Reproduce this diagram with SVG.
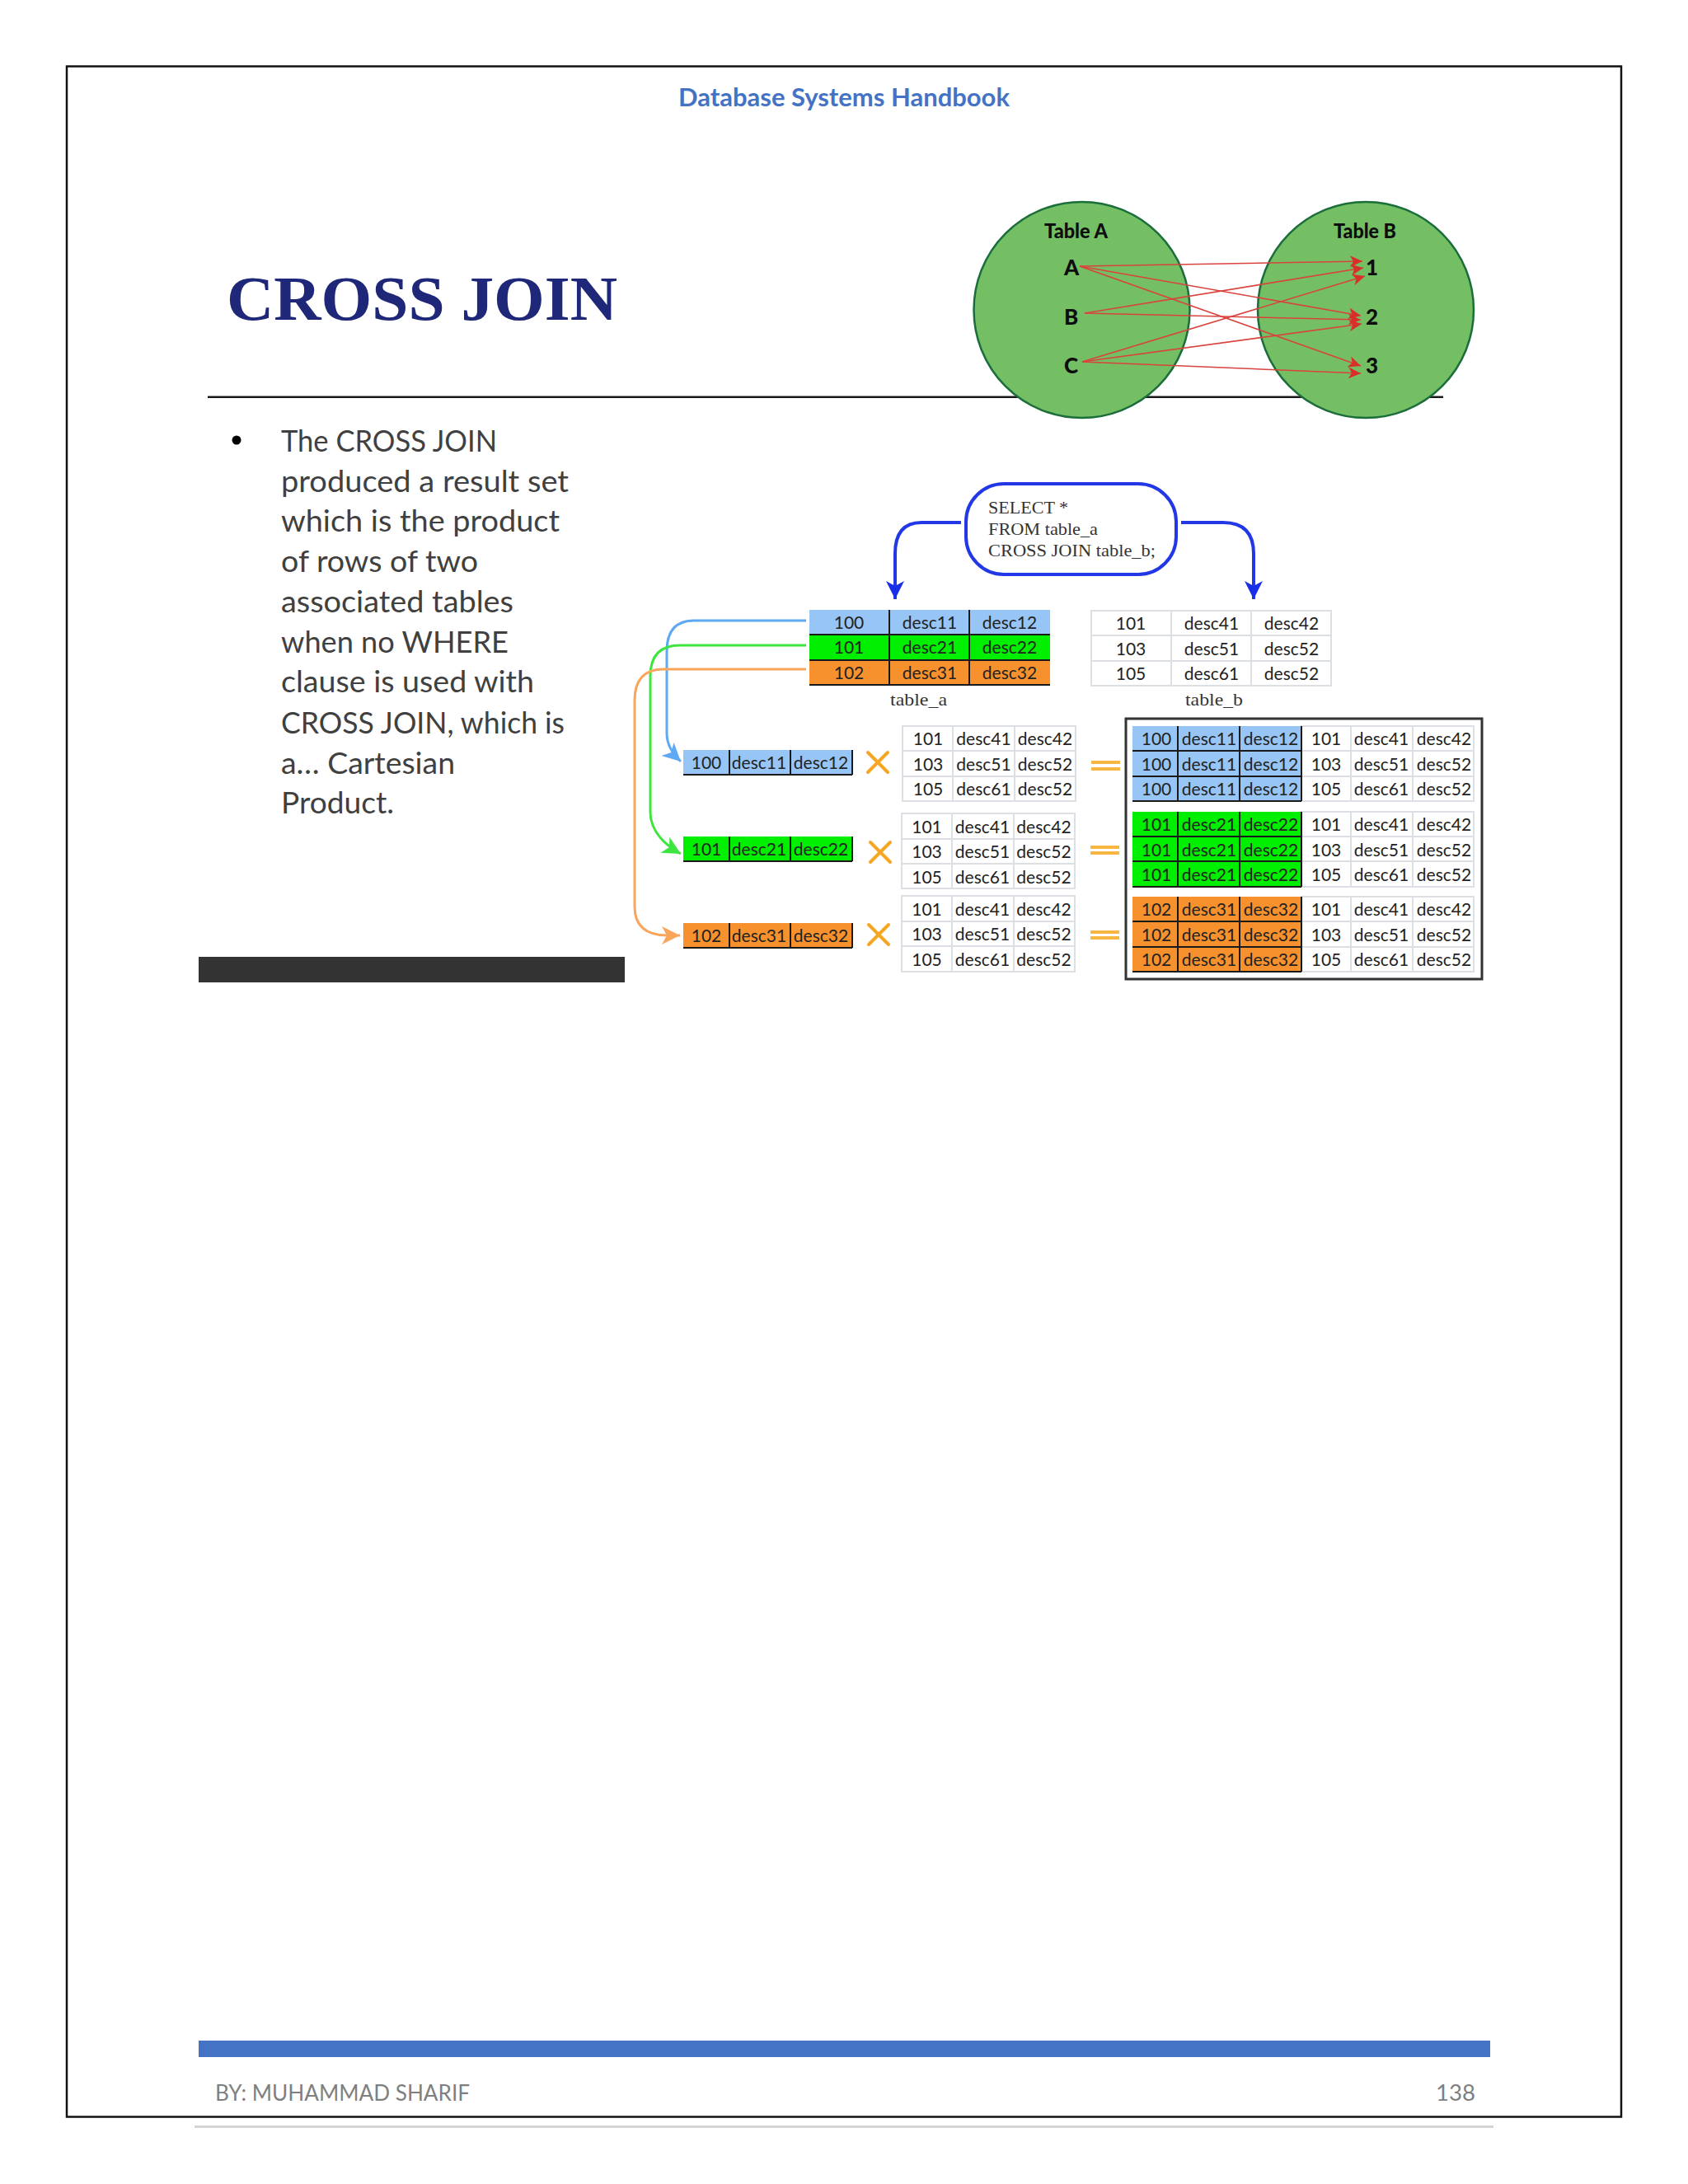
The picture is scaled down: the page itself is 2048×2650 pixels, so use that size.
<svg xmlns="http://www.w3.org/2000/svg" width="2048" height="2650" viewBox="0 0 2048 2650">
<style>
text{font-family:"Lato","Noto Sans",sans-serif}
.c{font-size:21px;fill:#222;text-anchor:middle}
.q{font-family:"Liberation Serif",serif;font-size:22px;fill:#333}
.p{font-size:37px;fill:#404040}
.f{font-size:27px;fill:#7f7f7f}
.v{font-weight:900;fill:#0d0d0d}
.k{stroke:#1a1a1a;stroke-width:2;fill:none}
.g{stroke:#dcdfe4;stroke-width:2;fill:#fff}
.gl{stroke:#dcdfe4;stroke-width:2;fill:none}
.ra{stroke:#d9433e;stroke-width:1.6;fill:none;marker-end:url(#ma)}
.b{fill:#97c5f5}.n{fill:#00ee00}.o{fill:#f7912e}
.x{stroke:#f5a623;stroke-width:4;fill:none;stroke-linecap:round}
.e{stroke:#f7b740;stroke-width:4;fill:none}
.bl{stroke:#2238e6;stroke-width:4;fill:none;marker-end:url(#mb)}
</style>
<defs>
<marker id="ma" markerUnits="userSpaceOnUse" markerWidth="18" markerHeight="16" refX="15" refY="7" orient="auto"><path d="M0 0 15 7 0 14 4 7Z" fill="#d92f2b"/></marker>
<marker id="mb" markerUnits="userSpaceOnUse" markerWidth="24" markerHeight="26" refX="22" refY="11" orient="auto"><path d="M0 0 22 11 0 22 6 11Z" fill="#1a2ee8"/></marker>
<marker id="mcb" markerUnits="userSpaceOnUse" markerWidth="24" markerHeight="26" refX="22" refY="11" orient="auto"><path d="M0 0 22 11 0 22 6 11Z" fill="#5fa8f2"/></marker>
<marker id="mcg" markerUnits="userSpaceOnUse" markerWidth="24" markerHeight="26" refX="22" refY="11" orient="auto"><path d="M0 0 22 11 0 22 6 11Z" fill="#3fe53f"/></marker>
<marker id="mco" markerUnits="userSpaceOnUse" markerWidth="24" markerHeight="26" refX="22" refY="11" orient="auto"><path d="M0 0 22 11 0 22 6 11Z" fill="#f9a55c"/></marker>
</defs>
<rect width="2048" height="2650" fill="#fff"/>

<g id="page">
<rect x="81" y="80.500" width="1886" height="2488" fill="none" stroke="#111" stroke-width="2.500"/>
<rect x="236" y="2579" width="1576" height="3" fill="#d4d4d4"/>
<text x="823" y="129" font-size="30" font-weight="700" fill="#4472c4" textLength="402" lengthAdjust="spacingAndGlyphs">Database Systems Handbook</text>
<text x="275" y="388" style="font-family:'Liberation Serif',serif" font-size="76" font-weight="700" fill="#1f2778" textLength="474" lengthAdjust="spacingAndGlyphs">CROSS JOIN</text>
<rect x="252" y="480.500" width="1499" height="2.500" fill="#1a1a1a"/>
<rect x="241" y="1161" width="517" height="31" fill="#333"/>
<rect x="241" y="2476" width="1567" height="20" fill="#4472c4"/>
<text class="f" x="261" y="2549" textLength="309" lengthAdjust="spacingAndGlyphs">BY: MUHAMMAD SHARIF</text>
<text class="f" x="1742" y="2549" textLength="48" lengthAdjust="spacingAndGlyphs">138</text>
</g>

<g id="bullet-text">
<circle cx="287" cy="534" r="5.500" fill="#000"/>
<text class="p" x="341" y="548" textLength="262" lengthAdjust="spacingAndGlyphs">The CROSS JOIN</text>
<text class="p" x="341" y="597" textLength="349" lengthAdjust="spacingAndGlyphs">produced a result set</text>
<text class="p" x="341" y="645" textLength="338" lengthAdjust="spacingAndGlyphs">which is the product</text>
<text class="p" x="341" y="694" textLength="239" lengthAdjust="spacingAndGlyphs">of rows of two</text>
<text class="p" x="341" y="743" textLength="282" lengthAdjust="spacingAndGlyphs">associated tables</text>
<text class="p" x="341" y="792" textLength="276" lengthAdjust="spacingAndGlyphs">when no WHERE</text>
<text class="p" x="341" y="840" textLength="307" lengthAdjust="spacingAndGlyphs">clause is used with</text>
<text class="p" x="341" y="890" textLength="344" lengthAdjust="spacingAndGlyphs">CROSS JOIN, which is</text>
<text class="p" x="341" y="939" textLength="211" lengthAdjust="spacingAndGlyphs">a… Cartesian</text>
<text class="p" x="341" y="987" textLength="137" lengthAdjust="spacingAndGlyphs">Product.</text>
</g>

<g id="table-a-circle">
<circle cx="1312.500" cy="376" r="131" fill="#74bf63" stroke="#1b6e3c" stroke-width="2.500"/>
<text class="v" x="1267" y="289" font-size="25" textLength="77" lengthAdjust="spacingAndGlyphs">Table A</text>
<text class="v" x="1291" y="334" font-size="26">A</text>
<text class="v" x="1291" y="394" font-size="26">B</text>
<text class="v" x="1291" y="453" font-size="26">C</text>
</g>
<g id="table-b-circle">
<circle cx="1657" cy="376" r="131" fill="#74bf63" stroke="#1b6e3c" stroke-width="2.500"/>
<text class="v" x="1618" y="289" font-size="25" textLength="76" lengthAdjust="spacingAndGlyphs">Table B</text>
<text class="v" x="1657" y="334" font-size="26">1</text>
<text class="v" x="1657" y="394" font-size="26">2</text>
<text class="v" x="1657" y="453" font-size="26">3</text>
</g>
<g id="venn-connectors">
<path class="ra" d="M1310 323 1653 317"/>
<path class="ra" d="M1316 380 1654 325"/>
<path class="ra" d="M1313 439 1656 335"/>
<path class="ra" d="M1310 323 1651 383"/>
<path class="ra" d="M1316 380 1651 388"/>
<path class="ra" d="M1313 439 1652 393"/>
<path class="ra" d="M1310 323 1651 444"/>
<path class="ra" d="M1313 439 1651 453"/>
</g>

<g id="sql-box">
<rect x="1172" y="587" width="255" height="110" rx="46" fill="#fff" stroke="#2238e6" stroke-width="4"/>
<text class="q" x="1199" y="623" textLength="97" lengthAdjust="spacingAndGlyphs">SELECT *</text>
<text class="q" x="1199" y="649" textLength="133" lengthAdjust="spacingAndGlyphs">FROM table_a</text>
<text class="q" x="1199" y="675" textLength="203" lengthAdjust="spacingAndGlyphs">CROSS JOIN table_b;</text>
</g>

<g id="connectors">
<path class="bl" d="M1166 634H1118Q1086 634 1086 672V727"/>
<path class="bl" d="M1433 634H1484Q1521 634 1521 672V727"/>
<path d="M978 753H842Q809 753 809 790V890Q809 908 826 924" fill="none" stroke="#5fa8f2" stroke-width="3" marker-end="url(#mcb)"/>
<path d="M978 783H825Q789 783 789 820V985Q789 1015 826 1036" fill="none" stroke="#3fe53f" stroke-width="3" marker-end="url(#mcg)"/>
<path d="M978 812H805Q770 812 770 850V1100Q770 1135 810 1135H825" fill="none" stroke="#f9a55c" stroke-width="3" marker-end="url(#mco)"/>
</g>

<g id="table_a">
<rect class="b" x="982" y="740" width="292" height="30"/>
<rect class="n" x="982" y="770" width="292" height="31"/>
<rect class="o" x="982" y="801" width="292" height="30"/>
<path class="k" d="M1079 740V831M1176 740V831M982 770H1274M982 801H1274M982 831H1274"/>
<text class="c" x="1030" y="763">100</text><text class="c" x="1128" y="763">desc11</text><text class="c" x="1225" y="763">desc12</text>
<text class="c" x="1030" y="793">101</text><text class="c" x="1128" y="793">desc21</text><text class="c" x="1225" y="793">desc22</text>
<text class="c" x="1030" y="824">102</text><text class="c" x="1128" y="824">desc31</text><text class="c" x="1225" y="824">desc32</text>
<text class="q" x="1080" y="856" textLength="69" lengthAdjust="spacingAndGlyphs">table_a</text>
</g>

<g id="table_b">
<rect class="g" x="1324" y="741" width="291" height="91"/>
<path class="gl" d="M1421 741V832M1518 741V832M1324 771H1615M1324 802H1615"/>
<text class="c" x="1372" y="764">101</text><text class="c" x="1470" y="764">desc41</text><text class="c" x="1567" y="764">desc42</text>
<text class="c" x="1372" y="795">103</text><text class="c" x="1470" y="795">desc51</text><text class="c" x="1567" y="795">desc52</text>
<text class="c" x="1372" y="825">105</text><text class="c" x="1470" y="825">desc61</text><text class="c" x="1567" y="825">desc52</text>
<text class="q" x="1438" y="856" textLength="70" lengthAdjust="spacingAndGlyphs">table_b</text>
</g>

<g id="row-100">
<rect class="b" x="829" y="910" width="205" height="30"/>
<path class="k" d="M885 910V940M959 910V940M829 940H1034M1034 910V940"/>
<text class="c" x="857" y="933">100</text><text class="c" x="921" y="933">desc11</text><text class="c" x="996" y="933">desc12</text>
</g>
<g id="row-101">
<rect class="n" x="829" y="1015" width="205" height="30"/>
<path class="k" d="M885 1015V1045M959 1015V1045M829 1045H1034M1034 1015V1045"/>
<text class="c" x="857" y="1038">101</text><text class="c" x="921" y="1038">desc21</text><text class="c" x="996" y="1038">desc22</text>
</g>
<g id="row-102">
<rect class="o" x="829" y="1120" width="205" height="30"/>
<path class="k" d="M885 1120V1150M959 1120V1150M829 1150H1034M1034 1120V1150"/>
<text class="c" x="857" y="1143">102</text><text class="c" x="921" y="1143">desc31</text><text class="c" x="996" y="1143">desc32</text>
</g>

<g id="operators">
<path class="x" d="M1053 913 1077 937M1077 913 1053 937"/>
<path class="x" d="M1056 1022 1080 1046M1080 1022 1056 1046"/>
<path class="x" d="M1054 1122 1078 1146M1078 1122 1054 1146"/>
<path class="e" d="M1324 925H1359M1324 933H1359"/>
<path class="e" d="M1323 1028H1358M1323 1035H1358"/>
<path class="e" d="M1323 1131H1358M1323 1138H1358"/>
</g>

<g id="middle-table-1">
<rect class="g" x="1095" y="881" width="210" height="91"/>
<path class="gl" d="M1156 881V972M1231 881V972M1095 911H1305M1095 942H1305"/>
<text class="c" x="1126" y="904">101</text><text class="c" x="1193.500" y="904">desc41</text><text class="c" x="1268" y="904">desc42</text>
<text class="c" x="1126" y="935">103</text><text class="c" x="1193.500" y="935">desc51</text><text class="c" x="1268" y="935">desc52</text>
<text class="c" x="1126" y="965">105</text><text class="c" x="1193.500" y="965">desc61</text><text class="c" x="1268" y="965">desc52</text>
</g>
<g id="middle-table-2">
<rect class="g" x="1094" y="987" width="210" height="91"/>
<path class="gl" d="M1155 987V1078M1230 987V1078M1094 1018H1304M1094 1048H1304"/>
<text class="c" x="1124.500" y="1011">101</text><text class="c" x="1192" y="1011">desc41</text><text class="c" x="1266.500" y="1011">desc42</text>
<text class="c" x="1124.500" y="1041">103</text><text class="c" x="1192" y="1041">desc51</text><text class="c" x="1266.500" y="1041">desc52</text>
<text class="c" x="1124.500" y="1072">105</text><text class="c" x="1192" y="1072">desc61</text><text class="c" x="1266.500" y="1072">desc52</text>
</g>
<g id="middle-table-3">
<rect class="g" x="1094" y="1087" width="210" height="92"/>
<path class="gl" d="M1155 1087V1179M1230 1087V1179M1094 1118H1304M1094 1148H1304"/>
<text class="c" x="1124.500" y="1111">101</text><text class="c" x="1192" y="1111">desc41</text><text class="c" x="1266.500" y="1111">desc42</text>
<text class="c" x="1124.500" y="1141">103</text><text class="c" x="1192" y="1141">desc51</text><text class="c" x="1266.500" y="1141">desc52</text>
<text class="c" x="1124.500" y="1172">105</text><text class="c" x="1192" y="1172">desc61</text><text class="c" x="1266.500" y="1172">desc52</text>
</g>

<g id="result">
<rect x="1366" y="872" width="432" height="316" fill="#fff" stroke="#333" stroke-width="3"/>
<rect class="g" x="1579" y="881" width="209" height="91"/>
<path class="gl" d="M1639 881V972M1714 881V972M1579 911H1788M1579 942H1788"/>
<rect class="g" x="1579" y="985" width="209" height="91"/>
<path class="gl" d="M1639 985V1076M1714 985V1076M1579 1015H1788M1579 1045H1788"/>
<rect class="g" x="1579" y="1088" width="209" height="91"/>
<path class="gl" d="M1639 1088V1179M1714 1088V1179M1579 1118H1788M1579 1149H1788"/>
<rect class="b" x="1374" y="881" width="205" height="91"/>
<path class="k" d="M1429 881V972M1504 881V972M1374 911H1579M1374 942H1579M1374 972H1579M1579 881V972"/>
<rect class="n" x="1374" y="985" width="205" height="91"/>
<path class="k" d="M1429 985V1076M1504 985V1076M1374 1015H1579M1374 1045H1579M1374 1076H1579M1579 985V1076"/>
<rect class="o" x="1374" y="1088" width="205" height="91"/>
<path class="k" d="M1429 1088V1179M1504 1088V1179M1374 1118H1579M1374 1149H1579M1374 1179H1579M1579 1088V1179"/>
<text class="c" x="1403" y="904">100</text><text class="c" x="1467" y="904">desc11</text><text class="c" x="1542" y="904">desc12</text><text class="c" x="1609" y="904">101</text><text class="c" x="1676" y="904">desc41</text><text class="c" x="1752" y="904">desc42</text>
<text class="c" x="1403" y="935">100</text><text class="c" x="1467" y="935">desc11</text><text class="c" x="1542" y="935">desc12</text><text class="c" x="1609" y="935">103</text><text class="c" x="1676" y="935">desc51</text><text class="c" x="1752" y="935">desc52</text>
<text class="c" x="1403" y="965">100</text><text class="c" x="1467" y="965">desc11</text><text class="c" x="1542" y="965">desc12</text><text class="c" x="1609" y="965">105</text><text class="c" x="1676" y="965">desc61</text><text class="c" x="1752" y="965">desc52</text>
<text class="c" x="1403" y="1008">101</text><text class="c" x="1467" y="1008">desc21</text><text class="c" x="1542" y="1008">desc22</text><text class="c" x="1609" y="1008">101</text><text class="c" x="1676" y="1008">desc41</text><text class="c" x="1752" y="1008">desc42</text>
<text class="c" x="1403" y="1039">101</text><text class="c" x="1467" y="1039">desc21</text><text class="c" x="1542" y="1039">desc22</text><text class="c" x="1609" y="1039">103</text><text class="c" x="1676" y="1039">desc51</text><text class="c" x="1752" y="1039">desc52</text>
<text class="c" x="1403" y="1069">101</text><text class="c" x="1467" y="1069">desc21</text><text class="c" x="1542" y="1069">desc22</text><text class="c" x="1609" y="1069">105</text><text class="c" x="1676" y="1069">desc61</text><text class="c" x="1752" y="1069">desc52</text>
<text class="c" x="1403" y="1111">102</text><text class="c" x="1467" y="1111">desc31</text><text class="c" x="1542" y="1111">desc32</text><text class="c" x="1609" y="1111">101</text><text class="c" x="1676" y="1111">desc41</text><text class="c" x="1752" y="1111">desc42</text>
<text class="c" x="1403" y="1142">102</text><text class="c" x="1467" y="1142">desc31</text><text class="c" x="1542" y="1142">desc32</text><text class="c" x="1609" y="1142">103</text><text class="c" x="1676" y="1142">desc51</text><text class="c" x="1752" y="1142">desc52</text>
<text class="c" x="1403" y="1172">102</text><text class="c" x="1467" y="1172">desc31</text><text class="c" x="1542" y="1172">desc32</text><text class="c" x="1609" y="1172">105</text><text class="c" x="1676" y="1172">desc61</text><text class="c" x="1752" y="1172">desc52</text>
</g>
</svg>
